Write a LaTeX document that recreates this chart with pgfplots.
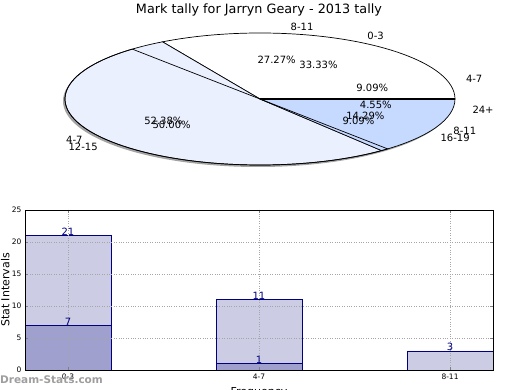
\documentclass[border=0pt]{standalone}
\usepackage{pgfplots}
\pgfplotsset{compat=1.18}
\usepackage{fontspec}
\setmainfont{DejaVu Sans}
\definecolor{navy}{HTML}{000080}
\definecolor{barlight}{HTML}{CCCCE5}
\definecolor{bardark}{HTML}{A0A0CF}
\definecolor{pieA}{HTML}{FFFFFF}
\definecolor{pieB}{HTML}{EBF0FF}
\definecolor{pieC}{HTML}{C6D9FF}
\pgfkeys{/pgf/number format/assume math mode=true}
\begin{document}
\begin{tikzpicture}
\useasboundingbox (0,0) rectangle (520pt,-390pt);
\node[font=\fontsize{12.8}{14}\selectfont, inner sep=0pt] at (259pt,-10pt) {Mark tally for Jarryn Geary - 2013 tally};

% hidden axis giving the pie centre
\begin{axis}[hide axis, scale only axis, width=390pt, height=132pt,
  at={(260pt,-99pt)}, anchor=center, xmin=-1, xmax=1, ymin=-1, ymax=1]
\addplot[draw=none] coordinates {(0,0)};
\coordinate (pc) at (axis cs:0,0);
\end{axis}

% shadow
\fill[black!60, opacity=0.6] ([shift={(-2pt,-2pt)}]pc) ellipse[x radius=195pt, y radius=66pt];
% pie 1 : 0-3 = 7, 4-7 = 11, 8-11 = 3
\foreach \v/\col [remember=\e as \s (initially 0)] in {7/pieA, 11/pieB, 3/pieC} {
  \pgfmathsetmacro\e{\s+\v/21*360}
  \filldraw[fill=\col, draw=black, line width=0.7pt] (pc) -- ++(\s:195pt and 66pt)
     arc[start angle=\s, end angle=\e, x radius=195pt, y radius=66pt] -- cycle;
}
% pie 2 outlines : 4-7 = 2, 8-11 = 6, 12-15 = 11, 16-19 = 2, 24+ = 1
\foreach \v/\show [remember=\e as \s (initially 0)] in {2/0, 6/0, 11/1, 2/0, 1/0} {
  \pgfmathsetmacro\e{\s+\v/22*360}
  \ifnum\show=1
  \draw[black, line width=0.7pt] (pc) -- ++(\s:195pt and 66pt)
     arc[start angle=\s, end angle=\e, x radius=195pt, y radius=66pt] -- cycle;
  \fi
}
\draw[line width=2.5pt] (pc) -- ++(0:195pt and 66pt);
% labels pie 1
\foreach \v/\lab [remember=\e as \s (initially 0)] in {7/0-3, 11/4-7, 3/8-11} {
  \pgfmathsetmacro\e{\s+\v/21*360}
  \pgfmathsetmacro\m{(\s+\e)/2}
  \pgfmathsetmacro\p{\v*100/21+0.00001}
  \pgfmathsetmacro\cc{cos(\m)}
  \ifdim\cc pt>0pt \def\anc{west}\else\def\anc{east}\fi
  \path (pc) ++(\m:214.5pt and 72.6pt) node[anchor=\anc, inner sep=0pt, font=\fontsize{10}{12}\selectfont] {\lab};
  \path (pc) ++(\m:117pt and 39.6pt) node[inner sep=0pt, font=\fontsize{10}{12}\selectfont] {\pgfmathprintnumber[fixed, fixed zerofill, precision=2]{\p}\%};
}
% labels pie 2
\foreach \v/\lab [remember=\e as \s (initially 0)] in {2/4-7, 6/8-11, 11/12-15, 2/16-19, 1/24+} {
  \pgfmathsetmacro\e{\s+\v/22*360}
  \pgfmathsetmacro\m{(\s+\e)/2}
  \pgfmathsetmacro\p{\v*100/22+0.00001}
  \pgfmathsetmacro\cc{cos(\m)}
  \ifdim\cc pt>0pt \def\anc{west}\else\def\anc{east}\fi
  \path (pc) ++(\m:214.5pt and 72.6pt) node[anchor=\anc, inner sep=0pt, font=\fontsize{10}{12}\selectfont] {\lab};
  \path (pc) ++(\m:117pt and 39.6pt) node[inner sep=0pt, font=\fontsize{10}{12}\selectfont] {\pgfmathprintnumber[fixed, fixed zerofill, precision=2]{\p}\%};
}

% bar chart
\begin{axis}[at={(25pt,-370pt)}, anchor=south west, scale only axis,
  width=468pt, height=160pt,
  xmin=-0.225, xmax=2.225, ymin=0, ymax=25,
  xtick={0,1,2}, xticklabels={0-3,4-7,8-11},
  ytick={0,5,...,25},
  /pgf/number format/assume math mode=true,
  ticklabel style={font=\fontsize{7.5}{8.5}\selectfont},
  grid=major, major grid style={dotted, gray!70, line width=0.6pt},
  axis on top, tick align=inside, major tick length=3pt,
  axis line style={line width=0.8pt},
  ylabel={Stat Intervals}, xlabel={Frequency},
  label style={font=\fontsize{11}{13}\selectfont},
  xlabel style={yshift=-1pt},
  ylabel style={yshift=-4.5pt},
  nodes near coords,
  every node near coord/.style={font=\fontsize{10}{12}\selectfont, text=navy, anchor=south, inner sep=0pt},
  ]
\addplot[ybar, bar width=0.45, fill=barlight, draw=navy] coordinates {(0,21) (1,11) (2,3)};
\addplot[ybar, bar width=0.45, fill=bardark, draw=navy] coordinates {(0,7) (1,1)};
\end{axis}
\node[anchor=west, inner sep=0pt, text=black!38, font=\bfseries\fontsize{10.5}{12}\selectfont] at (0pt,-380pt) {Dream-Stats.com};
\end{tikzpicture}
\end{document}
